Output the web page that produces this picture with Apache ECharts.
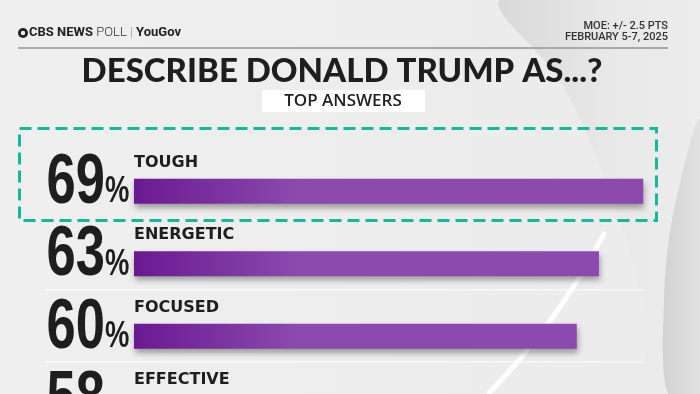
<!DOCTYPE html>
<html><head><meta charset="utf-8">
<script src="https://cdn.jsdelivr.net/npm/echarts@6/dist/echarts.min.js"></script>
<style>html,body{margin:0;padding:0;background:#ececec}#c{width:700px;height:394px}</style>
</head><body><div id="c"></div>
<script>
const categories = ['TOUGH', 'ENERGETIC', 'FOCUSED', 'EFFECTIVE'];
const values = [69, 63, 60, 58];
const titleText = 'DESCRIBE DONALD TRUMP AS...?';
const subtitleText = 'TOP ANSWERS';
const moeText = 'MOE: +/- 2.5 PTS';
const dateText = 'FEBRUARY 5-7, 2025';

const chart = echarts.init(document.getElementById('c'), null, {renderer: 'canvas'});

const decoration = [
  {type: 'rect', z: -10, shape: {x: 0, y: 0, width: 700, height: 394},
   style: {fill: {type: 'linear', x: 0, y: 0, x2: 1, y2: 0, colorStops: [
     {offset: 0, color: '#efefef'}, {offset: 1, color: '#ebebeb'}]}}},
  {type: 'polygon', z: -9, shape: {smooth: 0.3, points: [[500, 0], [560, 80], [610, 190], [640, 290], [655, 394], [700, 394], [700, 0]]},
   style: {fill: {type: 'linear', x: 0, y: 0, x2: 1, y2: 0, colorStops: [
     {offset: 0, color: '#d9d9d9'}, {offset: 0.5, color: '#e8e8e8'}, {offset: 1, color: '#eeeeee'}]}}},
  {type: 'polygon', z: -9, shape: {smooth: 0.3, points: [[700, 120], [672, 220], [664, 300], [668, 394], [700, 394]]},
   style: {fill: {type: 'linear', x: 0, y: 0, x2: 1, y2: 0, colorStops: [
     {offset: 0, color: '#d2d2d2'}, {offset: 1, color: '#e4e4e4'}]}}},
  {type: 'bezierCurve', z: -8, shape: {x1: 605, y1: 232, cpx1: 560, cpy1: 320, x2: 488, y2: 394},
   style: {fill: 'none', stroke: 'rgba(255,255,255,0.95)', lineWidth: 5}},
  // header
  {type: 'circle', shape: {cx: 23, cy: 33, r: 5}, style: {fill: '#222'}},
  {type: 'circle', shape: {cx: 23, cy: 33, r: 2.2}, style: {fill: '#eee'}},
  {type: 'text', left: 29, top: 26, style: {
    text: '{b|CBS NEWS} {l|POLL} {s||} {y|YouGov}',
    rich: {
      b: {fontFamily: 'Roboto', fontWeight: 'bold', fontSize: 13, fill: '#222'},
      l: {fontFamily: 'Roboto', fontWeight: 300, fontSize: 13, fill: '#333'},
      s: {fontFamily: 'Roboto', fontWeight: 300, fontSize: 12, fill: '#888'},
      y: {fontFamily: 'Roboto', fontWeight: 'bold', fontSize: 13, fill: '#222'}
    }}},
  {type: 'text', x: 668, y: 26, style: {text: moeText, font: '500 11px Roboto', fill: '#333', align: 'right', verticalAlign: 'middle'}},
  {type: 'text', x: 668, y: 37, style: {text: dateText, font: '500 11px Roboto', fill: '#333', align: 'right', verticalAlign: 'middle'}},
  {type: 'line', shape: {x1: 18, y1: 48, x2: 668, y2: 48}, style: {stroke: '#a9a9a9', lineWidth: 2}},
  // title
  {type: 'text', x: 342, y: 71, style: {text: titleText, font: '900 33px Lato', fill: '#1e1e1e', align: 'center', verticalAlign: 'middle'}},
  {type: 'rect', shape: {x: 262, y: 90, width: 163, height: 22}, style: {fill: '#ffffff'}},
  {type: 'text', x: 343, y: 101.5, style: {text: subtitleText, font: '600 17px "Open Sans"', fill: '#222', align: 'center', verticalAlign: 'middle'}},
  // separators
  {type: 'line', shape: {x1: 45, y1: 290, x2: 644, y2: 290}, style: {stroke: 'rgba(255,255,255,0.95)', lineWidth: 1.2}},
  {type: 'line', shape: {x1: 45, y1: 362, x2: 644, y2: 362}, style: {stroke: 'rgba(255,255,255,0.95)', lineWidth: 1.2}},
  // highlight box
  {type: 'rect', z: 100, shape: {x: 19.5, y: 128.5, width: 637, height: 92},
   style: {fill: 'none', stroke: '#14b99b', lineWidth: 3, lineDash: [12, 6]}}
];

const option = {
  backgroundColor: '#ececec',
  animation: false,
  graphic: decoration,
  grid: {left: 134, top: 155, width: 553.5, height: 290, outerBoundsMode: 'none', containLabel: false},
  xAxis: {type: 'value', min: 0, max: 75, show: false},
  yAxis: {type: 'category', data: categories, inverse: true, show: false},
  series: [
    {
      type: 'bar', data: values, barWidth: 25, z: 3, clip: false,
      itemStyle: {
        color: {type: 'linear', x: 134, y: 0, x2: 300, y2: 0, global: true,
          colorStops: [{offset: 0, color: '#6a1a91'}, {offset: 1, color: '#8c4aae'}]},
        shadowColor: 'rgba(0,0,0,0.35)', shadowBlur: 6, shadowOffsetY: 4, shadowOffsetX: 1
      },
      label: {
        show: true, position: [0, -16], align: 'left', verticalAlign: 'middle',
        formatter: p => categories[p.dataIndex],
        fontFamily: 'DejaVu Sans', fontWeight: 'bold', fontSize: 16, color: '#1e1e1e'
      }
    }
  ]
};
chart.setOption(option);

// big percentage numbers, placed through the axis scale
const numGraphics = [];
values.forEach((v, i) => {
  const pt = chart.convertToPixel({gridIndex: 0}, [0, i]);
  const x0 = pt[0], yc = pt[1];
  numGraphics.push({type: 'text', x: x0 - 29, y: yc - 8, scaleX: 0.75, z: 50,
    style: {text: String(v), font: 'bold 70px "Liberation Sans"', fill: '#1e1e1e',
      align: 'right', verticalAlign: 'middle', shadowColor: 'rgba(0,0,0,0.25)', shadowBlur: 3, shadowOffsetY: 2}});
  numGraphics.push({type: 'text', x: x0 - 29, y: yc + 1, scaleX: 0.74, z: 50,
    style: {text: '%', font: 'bold 37px "Liberation Sans"', fill: '#1e1e1e',
      align: 'left', verticalAlign: 'middle'}});
});
chart.setOption({graphic: decoration.concat(numGraphics)});
</script></body></html>
